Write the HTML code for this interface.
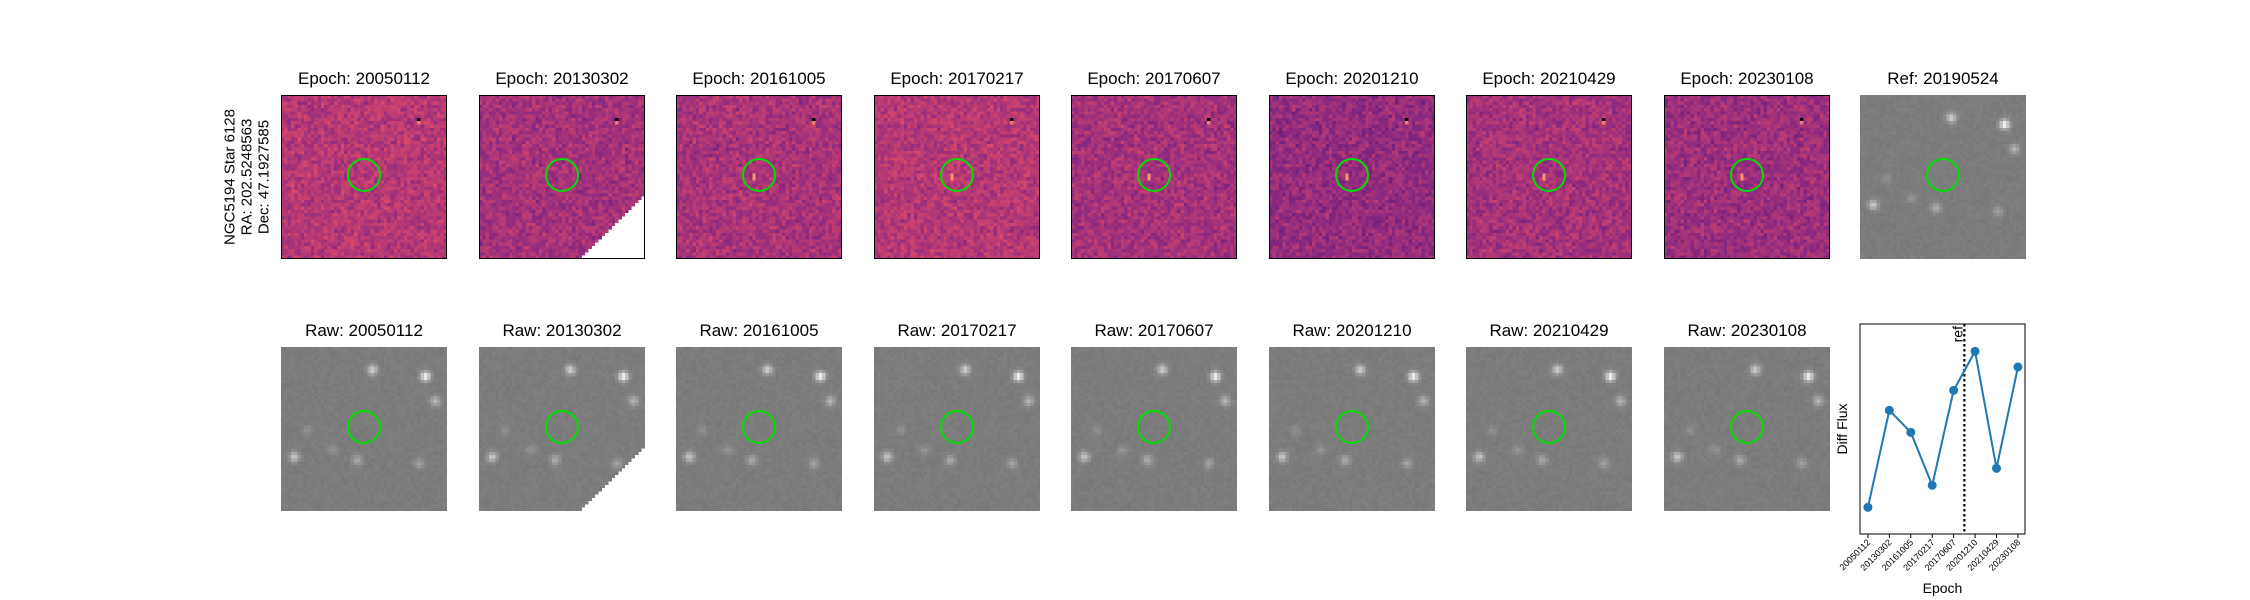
<!DOCTYPE html>
<html><head><meta charset="utf-8"><style>
body{margin:0;background:#fff;width:2250px;height:600px;overflow:hidden;position:relative;font-family:"Liberation Sans","DejaVu Sans",sans-serif}
.t{position:absolute;font-size:17px;color:#000;text-align:center;width:240px;white-space:nowrap}
canvas.im{position:absolute;width:166px;height:164px;image-rendering:pixelated}
.fr{position:absolute;border:1px solid #000;box-sizing:border-box;width:166px;height:164px;pointer-events:none}
.circ{position:absolute;width:34px;height:34px;border:2px solid #00e000;border-radius:50%;box-sizing:border-box}
</style></head><body>
<div style="position:absolute;left:247px;top:177px;width:220px;transform:translate(-50%,-50%) rotate(-90deg);text-align:center;font-size:15px;line-height:17px">NGC5194 Star 6128<br>RA: 202.5248563<br>Dec: 47.1927585</div>
<div id="root"></div>
<svg id="lc" style="position:absolute;left:0;top:0" width="2250" height="600"></svg>
<script>
const epochs=["20050112","20130302","20161005","20170217","20170607","20201210","20210429","20230108"];
const flux=[78,369,303,144,429,546,195,499];
const refPos=[4.5];
const yLim=[-2,628];
const colX=[281,479,676,874,1071,1269,1466,1664,1860];
const bgLevel=[0.5,0.46,0.47,0.5,0.46,0.42,0.46,0.44];
let seed=7;function rnd(){seed=(seed*16807)%2147483647;return seed/2147483647;}
function magma(t){t=Math.max(0,Math.min(1,t));const s=[[0,0,4],[59,15,112],[140,41,129],[222,73,104],[254,159,109],[252,253,191]];const f=t*5,i=Math.min(4,Math.floor(f)),u=f-i;return s[i].map((v,k)=>Math.round(v+(s[i+1][k]-v)*u));}
const stars=[[0.54,0.13,0.9],[0.86,0.17,1.3],[0.92,0.32,0.6],[0.07,0.66,0.8],[0.45,0.68,0.5],[0.82,0.7,0.4],[0.3,0.62,0.25],[0.15,0.5,0.2]];
const root=document.getElementById('root');
function panel(i,y,type,title,circ){
 const t=document.createElement('div');t.className='t';t.textContent=title;t.style.left=(colX[i]+83-120)+'px';t.style.top=(y-26)+'px';
 
 root.appendChild(t);
 const c=document.createElement('canvas');c.width=50;c.height=50;c.className='im';c.style.left=colX[i]+'px';c.style.top=y+'px';
 
 
 const ctx=c.getContext('2d');
 for(let yy=0;yy<50;yy++)for(let xx=0;xx<50;xx++){
  let col;
  if(type==='diff'){let v=bgLevel[i]+(rnd()-0.5)*0.14+(rnd()-0.5)*0.06;
   if(xx===41&&yy===7)v=0;
   if(xx===41&&yy===8)v=0.72;
   if(circ&&xx===23&&(yy===24||yy===25))v=0.78;
   col=magma(v);
   if(i===1&&yy>30&&xx>(79-yy))col=[255,255,255];}
  else{let v=124+(rnd()-0.5)*8;for(const s of stars){const d=(xx/50-s[0])**2+(yy/50-s[1])**2;v+=95*s[2]*Math.exp(-d/0.0009);}
   v=Math.min(255,v);col=[v,v,v];
   if(i===1&&yy>30&&xx>(79-yy))col=[255,255,255];}
  ctx.fillStyle='rgb('+col.join(',')+')';ctx.fillRect(xx,yy,1,1);}
 root.appendChild(c);
 if(type==='diff'){const f=document.createElement('div');f.className='fr';f.style.left=colX[i]+'px';f.style.top=y+'px';
  
  root.appendChild(f);}
 const o=document.createElement('div');o.className='circ';o.style.left=(colX[i]+83-17)+'px';o.style.top=(y+80-17)+'px';
 
 root.appendChild(o);
}
epochs.forEach((e,i)=>{panel(i,95,'diff','Epoch: '+e,i>=2);panel(i,347,'raw','Raw: '+e,false);});
panel(8,95,'raw','Ref: 20190524',false);
const svg=document.getElementById('lc'),NS='http://www.w3.org/2000/svg';
const L=1860,R=2025,T=324,B=534,xMin=-0.37,xMax=7.33;
const sx=v=>L+(v-xMin)/(xMax-xMin)*(R-L), sy=v=>B-(v-yLim[0])/(yLim[1]-yLim[0])*(B-T);
function el(tag,a,name){const e=document.createElementNS(NS,tag);for(const k in a)e.setAttribute(k,a[k]);
 
 svg.appendChild(e);return e;}
refPos.forEach(r=>{el('line',{x1:sx(r),x2:sx(r),y1:T,y2:B,stroke:'#000','stroke-width':2.2,'stroke-dasharray':'2.5,2.5'},'ref-line');
 const tx=el('text',{x:sx(r)-2,y:T+2,'font-size':14,transform:`rotate(-90 ${sx(r)-2} ${T+2})`,'text-anchor':'end'},'ref-label');tx.textContent='ref';});
el('polyline',{points:flux.map((v,i)=>sx(i)+','+sy(v)).join(' '),fill:'none',stroke:'#1f77b4','stroke-width':2},'flux-line');
flux.forEach((v,i)=>el('circle',{cx:sx(i),cy:sy(v),r:4.5,fill:'#1f77b4'},'flux-point'));
el('rect',{x:L,y:T,width:R-L,height:B-T,fill:'none',stroke:'#000','stroke-width':1},'axes-frame');
epochs.forEach((e,i)=>{const x=sx(i);el('line',{x1:x,x2:x,y1:B,y2:B+4,stroke:'#000'},'x-tick');
 const t=el('text',{x:x+3,y:B+9,'font-size':9,'text-anchor':'end',transform:`rotate(-45 ${x+3} ${B+9})`},'x-tick-label');t.textContent=e;});
const xl=el('text',{x:(L+R)/2,y:593,'font-size':14,'text-anchor':'middle'},'x-axis-title');xl.textContent='Epoch';
const yl=el('text',{x:1847,y:(T+B)/2,'font-size':14,'text-anchor':'middle',transform:`rotate(-90 1847 ${(T+B)/2})`},'y-axis-title');yl.textContent='Diff Flux';
</script>
</body></html>
